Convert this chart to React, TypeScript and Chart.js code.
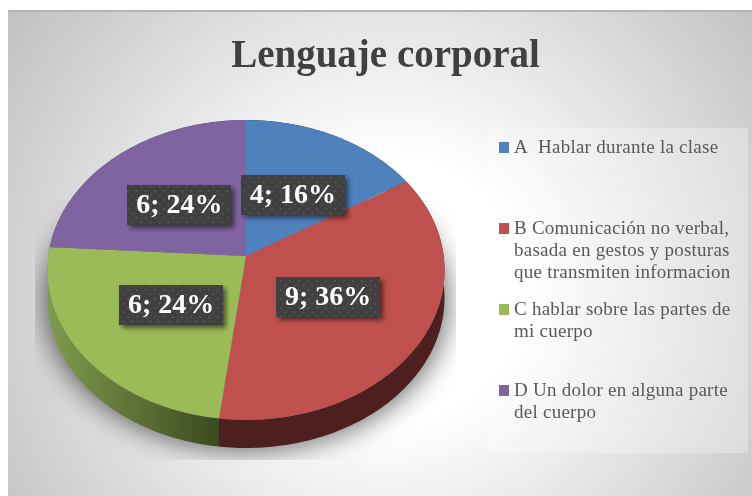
import React, { useEffect, useRef } from "react";
import { Chart, registerables } from "chart.js";

Chart.register(...registerables);

const titleText = "Lenguaje corporal";
const categories = ["A", "B", "C", "D"];
const legendLines = [
  ["A  Hablar durante la clase"],
  ["B Comunicación no verbal,", "basada en gestos y posturas", "que transmiten informacion"],
  ["C hablar sobre las partes de", "mi cuerpo"],
  ["D Un dolor en alguna parte", "del cuerpo"],
];
const counts = [4, 9, 6, 6];
const percents = [16, 36, 24, 24];
const colors = ["#4f81bd", "#c0504d", "#9bbb59", "#8064a2"];
const sideFrom = ["#2f4d71", "#4d1f1f", "#7f9c4c", "#4d3c61"];
const sideTo = ["#2f4d71", "#4d1f1f", "#3c4a20", "#4d3c61"];

const SERIF = '"Liberation Serif", serif';
const apex = { x: 246, y: 256 };
const R = 198.5;
const upRy = 145;
const downRy = 151;
const labelUp = 66.6;
const labelDown = 80.4;
const ell = { x: 246, y: 270, rx: 198.5, ry: 150 };
const DEPTH = 28;

function rim(angle: number) {
  const dx = Math.cos(angle);
  const s = Math.sin(angle);
  const dy = (s * (s > 0 ? downRy : upRy)) / R;
  const oy = apex.y - ell.y;
  const a = (dx * dx) / (ell.rx * ell.rx) + (dy * dy) / (ell.ry * ell.ry);
  const b = (2 * dy * oy) / (ell.ry * ell.ry);
  const c = (oy * oy) / (ell.ry * ell.ry) - 1;
  const t = (-b + Math.sqrt(b * b - 4 * a * c)) / (2 * a);
  return { x: apex.x + t * dx, y: apex.y + t * dy };
}

function dotPattern(ctx: CanvasRenderingContext2D) {
  const c = document.createElement("canvas");
  c.width = 9;
  c.height = 9;
  const p = c.getContext("2d")!;
  p.fillStyle = "#404040";
  p.fillRect(0, 0, 9, 9);
  p.fillStyle = "#525252";
  p.fillRect(1, 1, 2, 2);
  p.fillRect(5.5, 5.5, 2, 2);
  return ctx.createPattern(c, "repeat")!;
}

const piePlugin = {
  id: "tiltedPie",
  beforeDraw(chart: any) {
    const { ctx, width, height } = chart;
    ctx.save();
    ctx.fillStyle = "#ffffff";
    ctx.fillRect(0, 0, width, height);
    const g = ctx.createRadialGradient(390, 290, 130, 390, 290, 500);
    g.addColorStop(0, "#ffffff");
    g.addColorStop(1, "#bbbbbb");
    ctx.fillStyle = g;
    ctx.fillRect(8, 11, width - 8, height - 11);
    ctx.fillStyle = "#b4b4b4";
    ctx.fillRect(8, 10, width - 8, 2);
    ctx.fillStyle = "rgba(255,255,255,0.28)";
    ctx.fillRect(488, 128, 260, 325);

    ctx.fillStyle = "#404040";
    ctx.font = `bold 39px ${SERIF}`;
    ctx.textAlign = "center";
    ctx.textBaseline = "alphabetic";
    ctx.fillText(titleText, 385.5, 67);

    ctx.textAlign = "left";
    (ctx as any).letterSpacing = "0.25px";
    categories.forEach((_, i) => {
      const base = 153 + i * 81;
      ctx.fillStyle = colors[i];
      ctx.fillRect(499, base - 11, 10, 11);
      ctx.fillStyle = "#595959";
      ctx.font = `19px ${SERIF}`;
      legendLines[i].forEach((line, j) => ctx.fillText(line, 514, base + j * 22));
    });
    (ctx as any).letterSpacing = "0px";
    ctx.restore();
  },
  beforeDatasetDraw(chart: any) {
    const { ctx } = chart;
    const arcs = chart.getDatasetMeta(0).data;

    ctx.save();
    ctx.beginPath();
    ctx.rect(35, 200, 421, 260);
    ctx.clip();
    ctx.shadowColor = "rgba(0,0,0,0.55)";
    ctx.shadowBlur = 26;
    ctx.shadowOffsetX = 2000;
    ctx.fillStyle = "#000000";
    ctx.beginPath();
    ctx.ellipse(ell.x - 2000, ell.y + DEPTH + 3, ell.rx + 4, ell.ry, 0, 0, Math.PI * 2);
    ctx.fill();
    ctx.restore();

    arcs.forEach((arc: any, i: number) => {
      const pts: { x: number; y: number }[] = [];
      const n = 120;
      for (let k = 0; k <= n; k++) {
        pts.push(rim(arc.startAngle + ((arc.endAngle - arc.startAngle) * k) / n));
      }
      const xs = pts.filter((p) => p.y > ell.y).map((p) => p.x);
      const x0 = xs.length ? Math.min(...xs) : 0;
      const x1 = xs.length ? Math.max(...xs) : 1;
      const g = ctx.createLinearGradient(x0, 0, x1, 0);
      g.addColorStop(0, sideFrom[i]);
      g.addColorStop(1, sideTo[i]);
      ctx.fillStyle = g;
      ctx.beginPath();
      pts.forEach((p, k) => (k ? ctx.lineTo(p.x, p.y) : ctx.moveTo(p.x, p.y)));
      for (let k = n; k >= 0; k--) ctx.lineTo(pts[k].x, pts[k].y + DEPTH);
      ctx.closePath();
      ctx.fill();
    });

    const k = 1.2;
    [
      { y: 0, h: apex.y, ry: upRy },
      { y: apex.y, h: 300, ry: downRy },
    ].forEach((half) => {
      ctx.save();
      ctx.beginPath();
      ctx.rect(0, half.y, 752, half.h);
      ctx.clip();
      ctx.beginPath();
      ctx.ellipse(ell.x, ell.y, ell.rx, ell.ry, 0, 0, Math.PI * 2);
      ctx.clip();
      ctx.translate(apex.x, apex.y);
      ctx.scale(k, (k * half.ry) / R);
      ctx.translate(-apex.x, -apex.y);
      arcs.forEach((arc: any) => arc.draw(ctx));
      ctx.restore();
    });
    return false;
  },
  afterDatasetsDraw(chart: any) {
    const { ctx } = chart;
    const arcs = chart.getDatasetMeta(0).data;
    const pattern = dotPattern(ctx);
    arcs.forEach((arc: any, i: number) => {
      const mid = (arc.startAngle + arc.endAngle) / 2;
      const s = Math.sin(mid);
      const cx = apex.x + 0.49 * R * Math.cos(mid);
      const cy = apex.y + s * (s > 0 ? labelDown : labelUp) - 2.5;
      const w = 104;
      const h = 40;
      ctx.save();
      ctx.shadowColor = "rgba(0,0,0,0.55)";
      ctx.shadowBlur = 5;
      ctx.shadowOffsetX = 3;
      ctx.shadowOffsetY = 3;
      ctx.fillStyle = pattern;
      ctx.fillRect(Math.round(cx - w / 2), Math.round(cy - h / 2), w, h);
      ctx.restore();
      ctx.save();
      ctx.fillStyle = "#ffffff";
      ctx.font = `bold 28px ${SERIF}`;
      ctx.textAlign = "center";
      ctx.textBaseline = "middle";
      ctx.fillText(`${counts[i]}; ${percents[i]}%`, cx, cy + 1);
      ctx.restore();
    });
  },
};

export default function App() {
  const ref = useRef<HTMLCanvasElement>(null);
  useEffect(() => {
    const chart = new Chart(ref.current!, {
      type: "pie",
      data: {
        labels: categories,
        datasets: [{ data: counts, backgroundColor: colors, borderWidth: 0 }],
      },
      options: {
        animation: false,
        responsive: false,
        layout: { padding: { left: 47.5, right: 307.5, top: 57.5, bottom: 41.5 } },
        plugins: { legend: { display: false }, tooltip: { enabled: false } },
      },
      plugins: [piePlugin],
    } as any);
    return () => chart.destroy();
  }, []);
  return (
    <div style={{ position: "absolute", left: 0, top: 0 }}>
      <canvas ref={ref} width={752} height={496} style={{ display: "block" }} />
    </div>
  );
}
